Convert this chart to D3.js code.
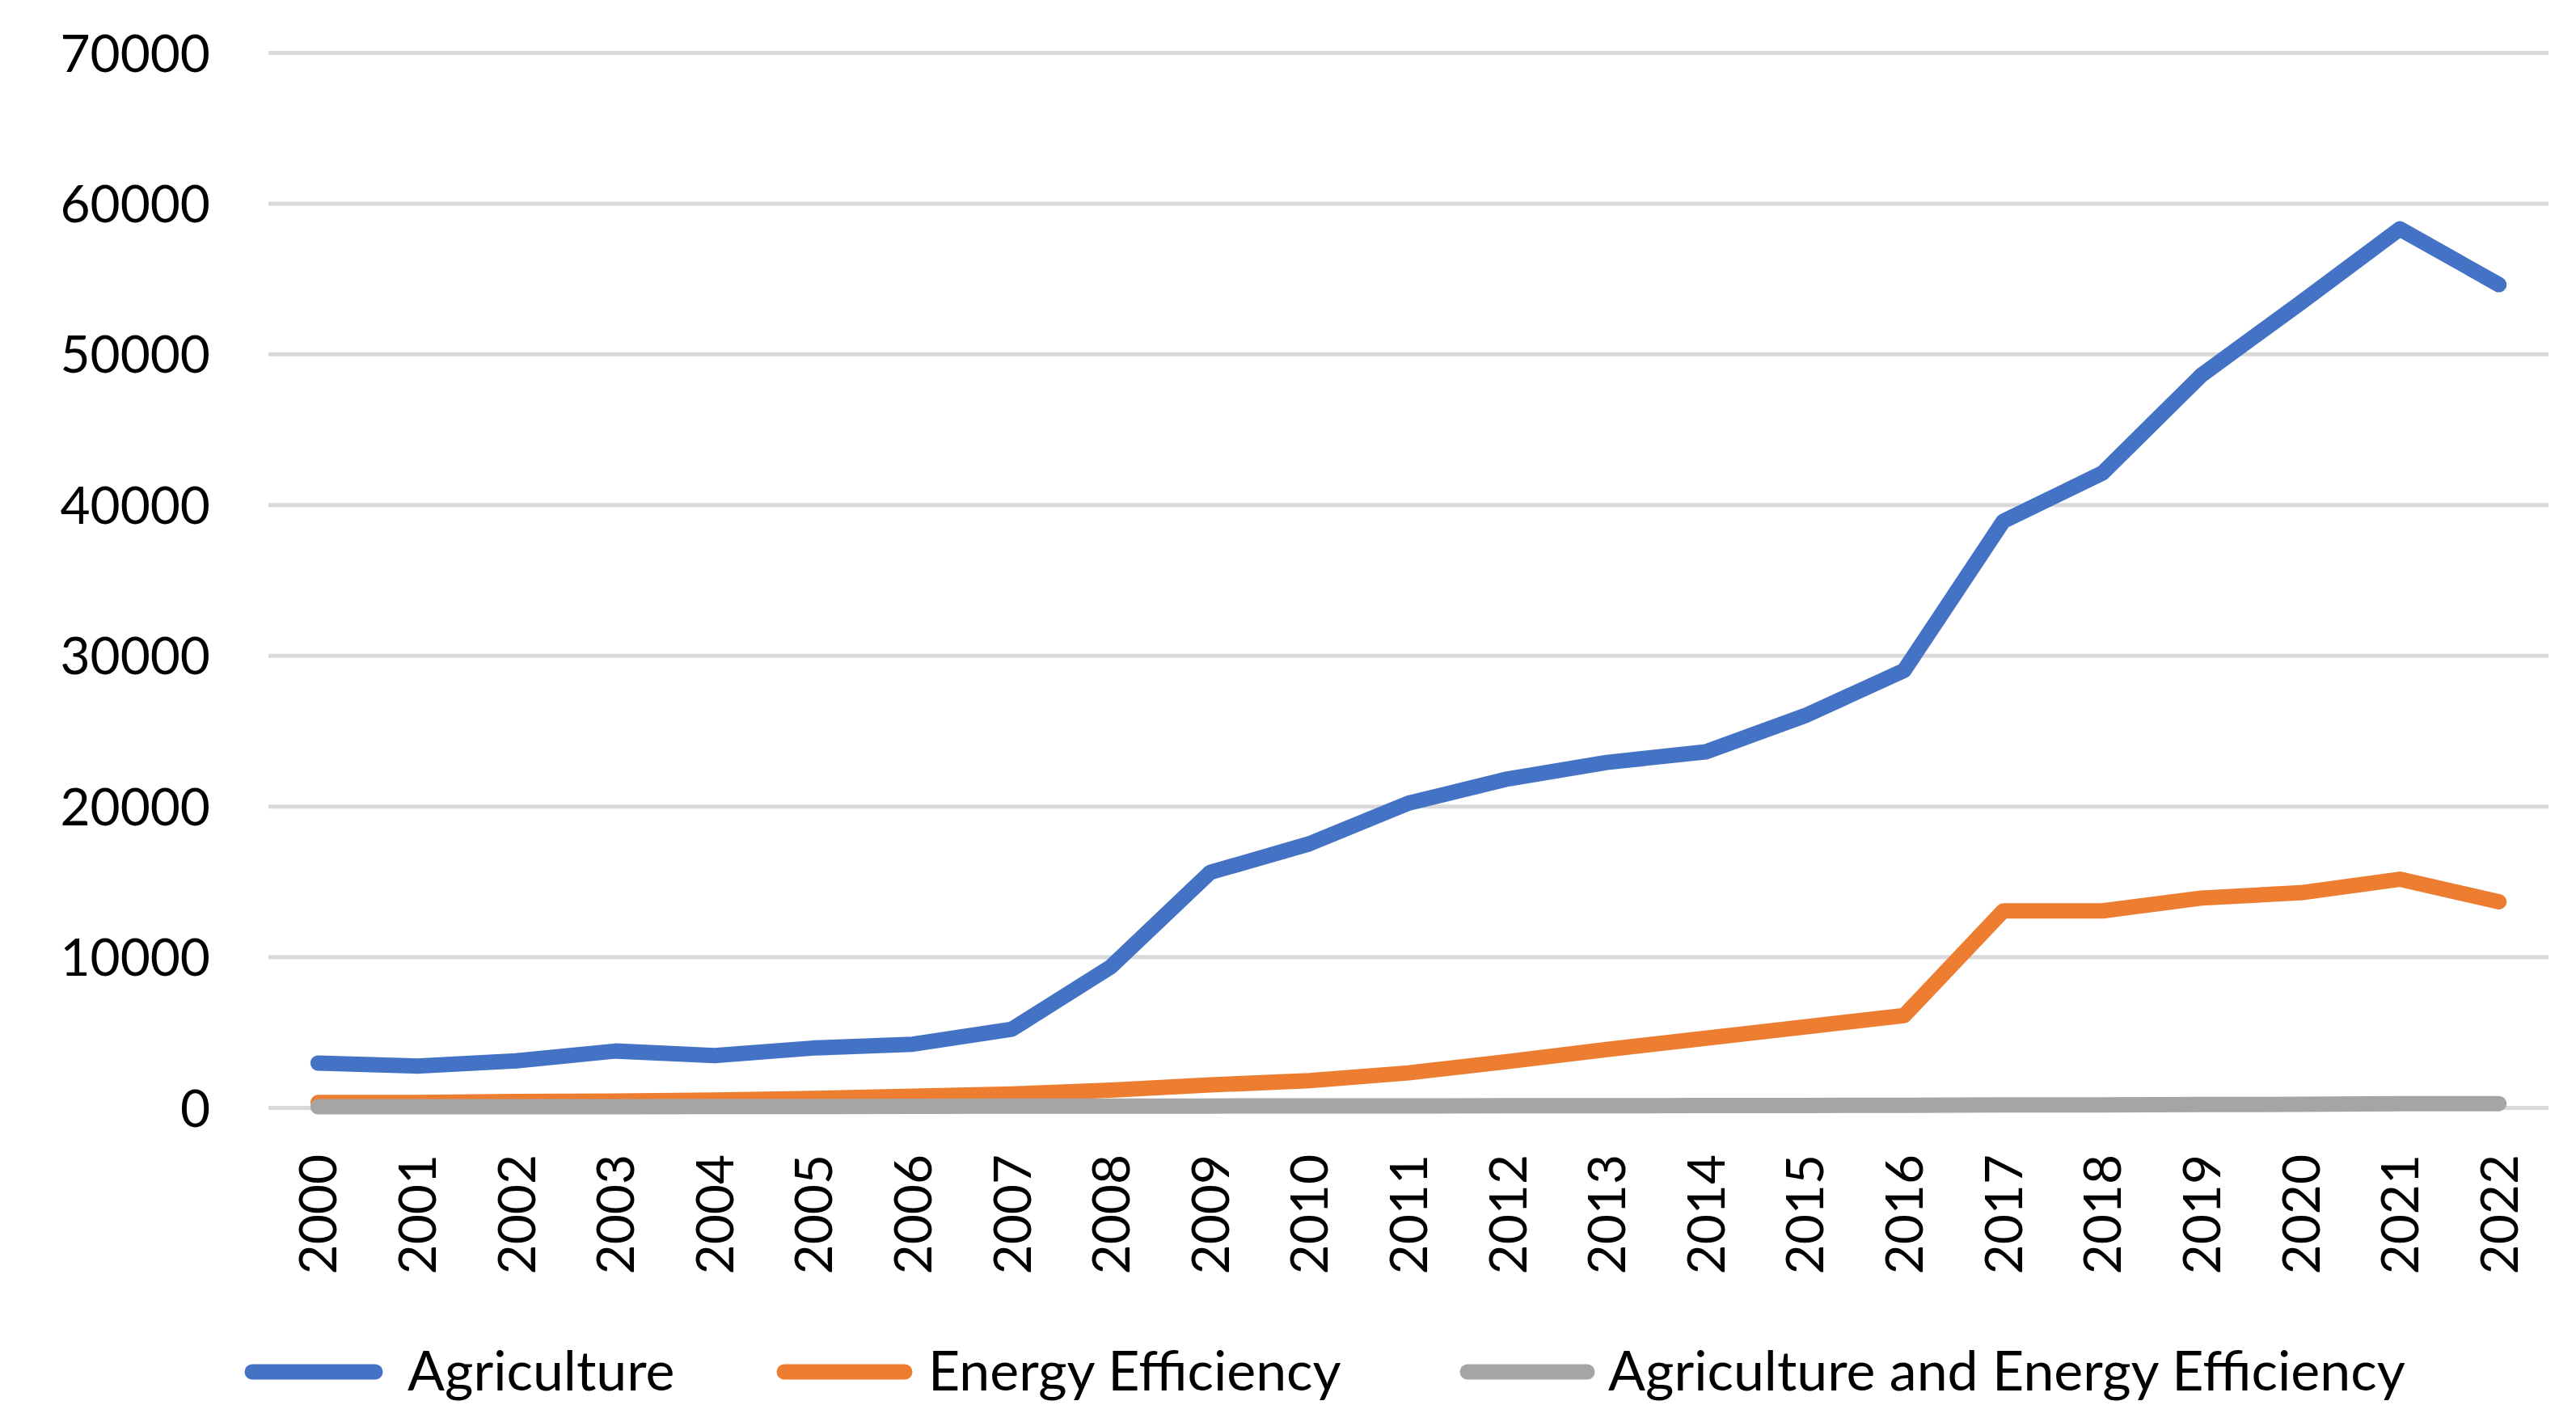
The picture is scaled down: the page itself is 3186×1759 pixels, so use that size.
<!DOCTYPE html>
<html><head><meta charset="utf-8">
<script src="https://cdn.jsdelivr.net/npm/d3@7"></script>
<style>body{margin:0;background:#fff}svg{display:block}</style>
</head><body>
<svg id="chart" width="3186" height="1759"></svg>
<script>
const years = ["2000","2001","2002","2003","2004","2005","2006","2007","2008","2009","2010","2011","2012","2013","2014","2015","2016","2017","2018","2019","2020","2021","2022"];
const agriculture = [2950, 2750, 3100, 3750, 3450, 3950, 4200, 5200, 9350, 15600, 17500, 20200, 21800, 22900, 23600, 26000, 29000, 38900, 42100, 48600, 53400, 58300, 54600];
const energyEfficiency = [330, 340, 400, 430, 500, 600, 750, 900, 1150, 1500, 1780, 2300, 3050, 3850, 4600, 5350, 6100, 13050, 13050, 13900, 14250, 15150, 13650];
const agricultureAndEnergy = [50, 50, 60, 60, 70, 70, 80, 90, 100, 100, 110, 110, 120, 120, 130, 140, 150, 170, 180, 200, 210, 250, 260];
const yTicks = [0, 10000, 20000, 30000, 40000, 50000, 60000, 70000];
const seriesNames = ["Agriculture", "Energy Efficiency", "Agriculture and Energy Efficiency"];
const seriesColors = ["#4472C4", "#ED7D31", "#A5A5A5"];

const series = seriesNames.map((name, i) => ({
  name, color: seriesColors[i],
  values: [agriculture, energyEfficiency, agricultureAndEnergy][i]
}));

const svg = d3.select("#chart");
const font = "Lato, 'Open Sans', sans-serif";
const L = 332, R = 3152, T = 65, B = 1370;

const x = d3.scaleBand().domain(years).range([L, R]);
const y = d3.scaleLinear().domain([0, 70000]).range([B, T]);
const cx = d => x(d) + x.bandwidth() / 2;

// Y axis with gridlines
const yAxis = svg.append("g").attr("transform", `translate(${L},0)`)
  .call(d3.axisLeft(y).tickValues(yTicks).tickFormat(d3.format("d"))
    .tickSizeInner(-(R - L)).tickSizeOuter(0).tickPadding(72));
yAxis.select(".domain").remove();
yAxis.selectAll(".tick line").attr("stroke", "#D9D9D9").attr("stroke-width", 5);
yAxis.selectAll(".tick text").attr("font-family", font).attr("font-size", 64)
  .attr("fill", "#000").attr("dy", "0.36em");

// X axis
const xAxis = svg.append("g").attr("transform", `translate(0,${B})`)
  .call(d3.axisBottom(x).tickSize(0));
xAxis.select(".domain").remove();
xAxis.selectAll(".tick text")
  .attr("font-family", font).attr("font-size", 64).attr("fill", "#000")
  .attr("transform", "rotate(-90)")
  .attr("x", -58).attr("y", 0).attr("dy", "0.36em")
  .style("text-anchor", "end");

// Lines
const line = d3.line().x((d, i) => cx(years[i])).y(d => y(d));
svg.append("g").selectAll("path").data(series).join("path")
  .attr("d", d => line(d.values))
  .attr("fill", "none")
  .attr("stroke", d => d.color)
  .attr("stroke-width", 19)
  .attr("stroke-linejoin", "round")
  .attr("stroke-linecap", "round");

// Legend
const legendLine = [[312, 464], [970, 1119], [1815, 1963]];
const legendTextX = [504, 1148, 1989];
const legendY = 1697;
const lg = svg.append("g").selectAll("g").data(series).join("g");
lg.append("line")
  .attr("x1", (d, i) => legendLine[i][0]).attr("x2", (d, i) => legendLine[i][1])
  .attr("y1", legendY).attr("y2", legendY)
  .attr("stroke", d => d.color).attr("stroke-width", 19).attr("stroke-linecap", "round");
lg.append("text").attr("x", (d, i) => legendTextX[i]).attr("y", legendY).attr("dy", "0.34em")
  .attr("font-family", font).attr("font-size", 68).attr("fill", "#000")
  .text(d => d.name);
</script>
</body></html>
